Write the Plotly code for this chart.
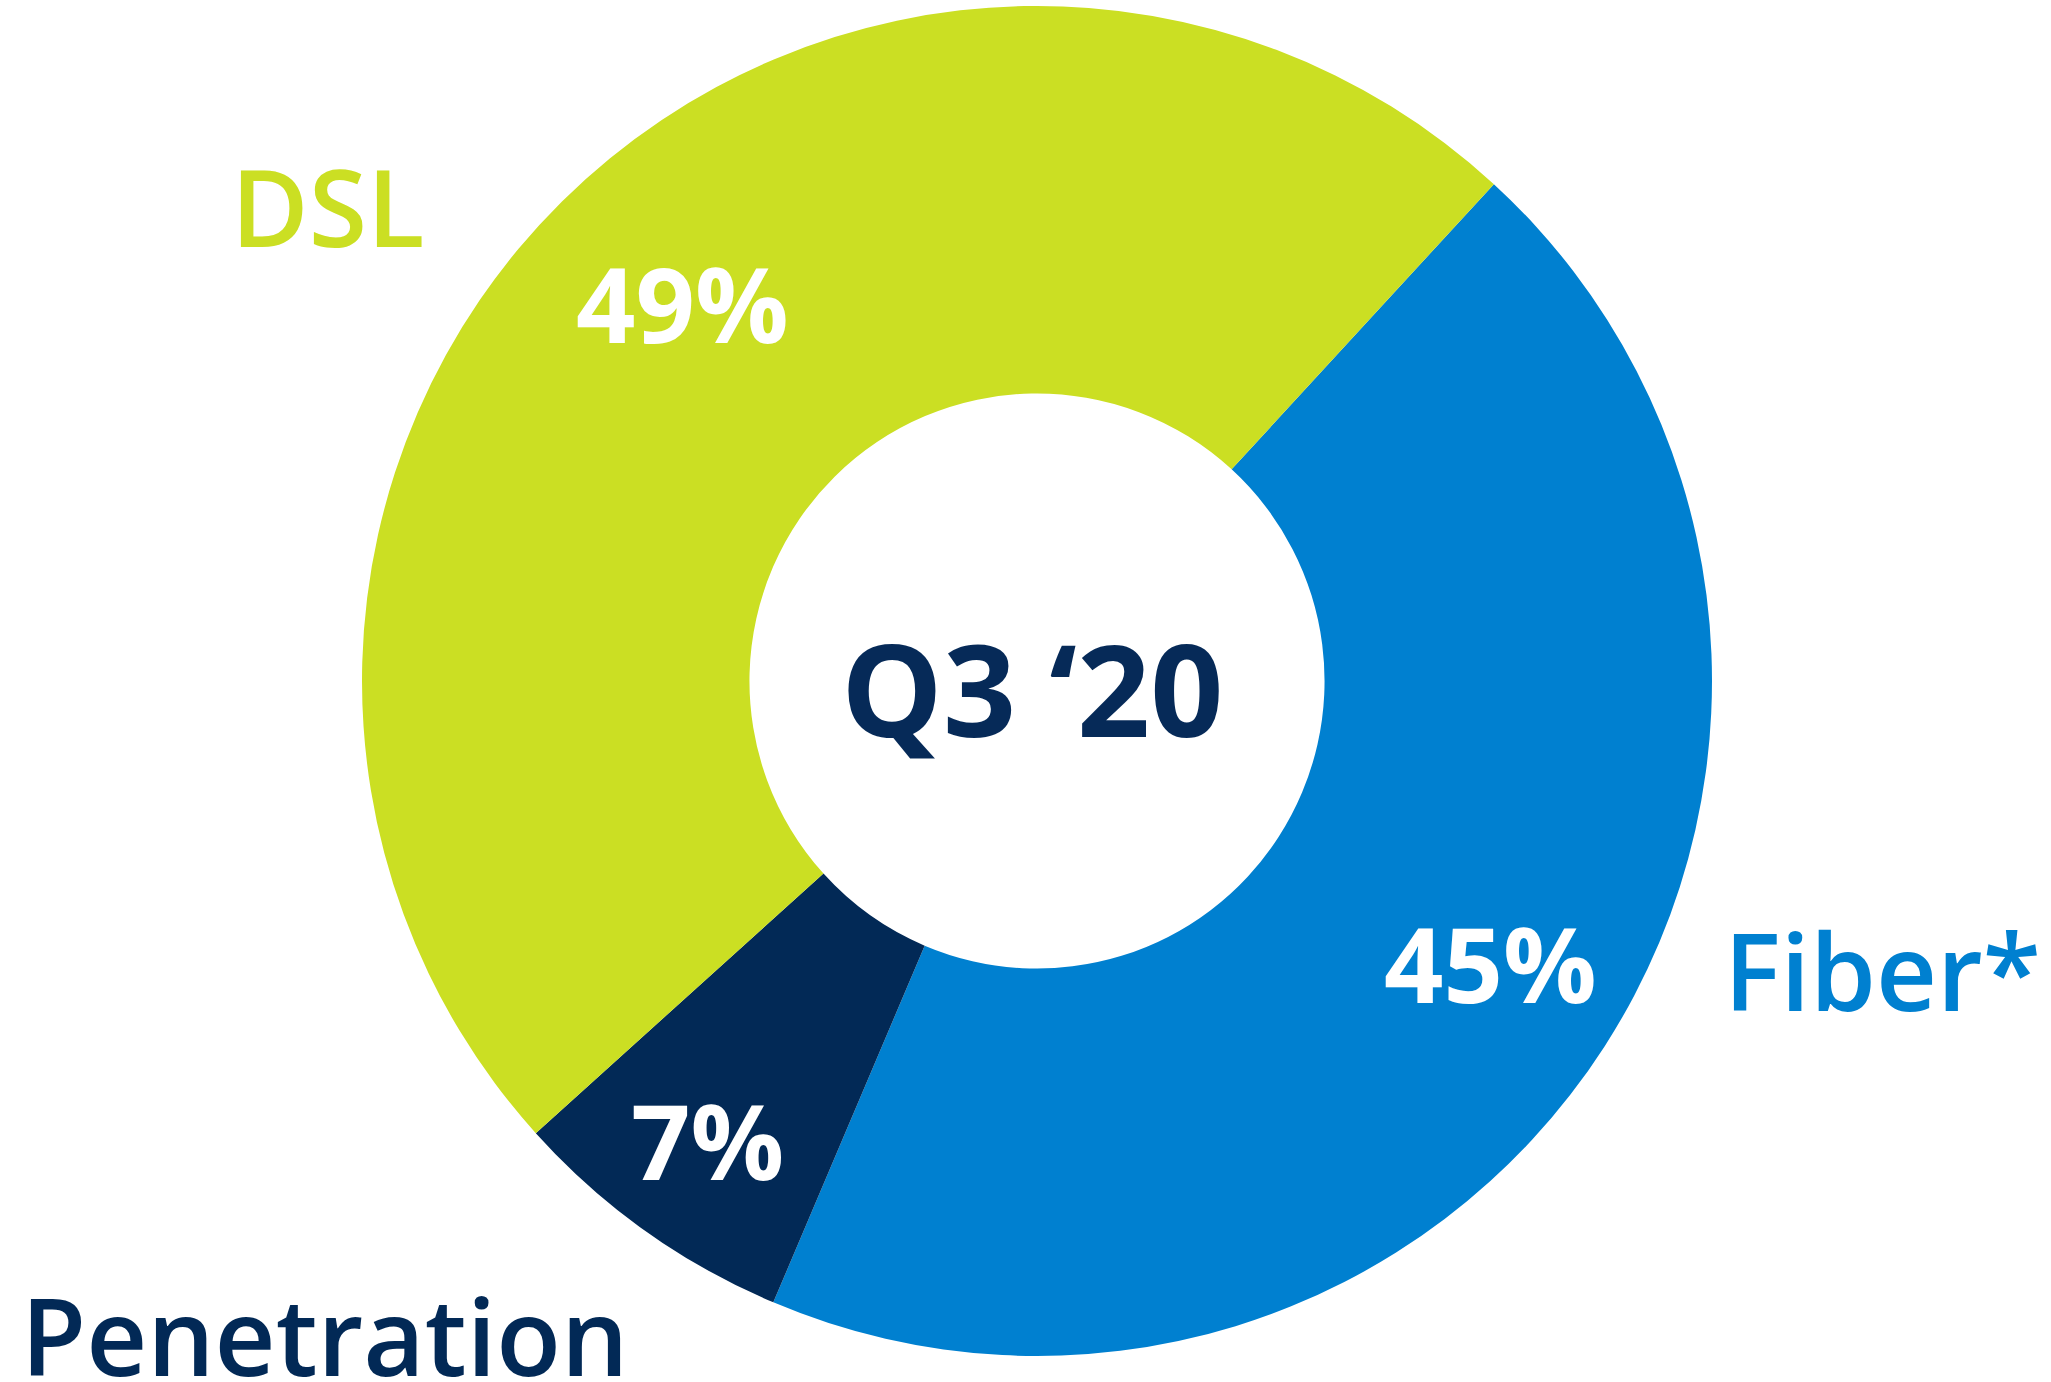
import plotly.graph_objects as go

# Broadband mix, Q3 '20 (shares in percent)
segments = ["Fiber*", "Penetration", "DSL"]
shares = [45, 7, 49]
colors = ["#0080D0", "#022956", "#CBDF23"]
period = "Q3 \u201820"

W, H = 2051, 1382
cx, cy, r = 1037, 681, 675  # donut centre and outer radius in px


def px(x):
    return x / W


def py(y):
    return 1 - y / H


fig = go.Figure(
    go.Pie(
        labels=segments,
        values=shares,
        sort=False,
        direction="clockwise",
        rotation=42.6,
        hole=0.426,
        marker=dict(colors=colors, line=dict(width=0)),
        textinfo="none",
        hoverinfo="label+percent",
        domain=dict(x=[px(cx - r), px(cx + r)], y=[py(cy + r), py(cy - r)]),
        showlegend=False,
    )
)

font_family = "Open Sans"

# percentage labels inside the ring
pct_pos = {"Fiber*": (1490, 962), "Penetration": (707, 1139), "DSL": (682, 302)}
# segment names outside the ring
name_pos = {"Fiber*": (1882, 970, "#0080D0"), "Penetration": (324, 1335, "#022956"),
            "DSL": (328, 206, "#CBDF23")}

annotations = []
for seg, val in zip(segments, shares):
    x, y = pct_pos[seg]
    annotations.append(dict(
        x=px(x), y=py(y), xref="paper", yref="paper",
        text=f"{val}%", showarrow=False, xanchor="center", yanchor="middle",
        font=dict(family=font_family, size=104, color="white", weight=700),
    ))
    nx, ny, col = name_pos[seg]
    annotations.append(dict(
        x=px(nx), y=py(ny), xref="paper", yref="paper",
        text=seg, showarrow=False, xanchor="center", yanchor="middle",
        font=dict(family=font_family, size=106, color=col, weight=600),
    ))

annotations.append(dict(
    x=px(1032), y=py(687), xref="paper", yref="paper",
    text=period, showarrow=False, xanchor="center", yanchor="middle",
    font=dict(family=font_family, size=128, color="#062A58", weight=700),
))

fig.update_layout(
    width=W, height=H,
    margin=dict(l=0, r=0, t=0, b=0),
    paper_bgcolor="white", plot_bgcolor="white",
    annotations=annotations,
)

fig.write_html("out.html")
